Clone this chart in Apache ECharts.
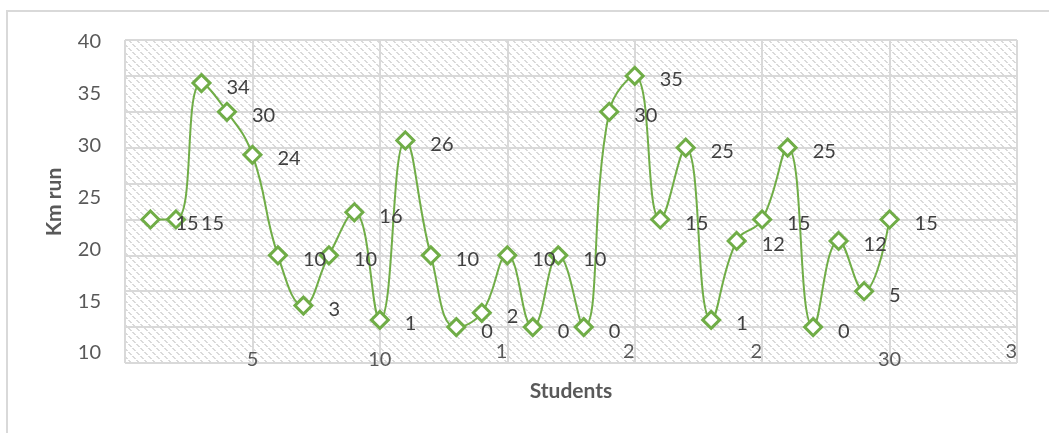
<!DOCTYPE html>
<html>
<head>
<meta charset="utf-8">
<script src="https://cdn.jsdelivr.net/npm/echarts@6/dist/echarts.min.js"></script>
<style>
  html, body { margin: 0; padding: 0; background: #fff; }
  #chart { width: 1049px; height: 433px; }
</style>
</head>
<body>
<div id="chart"></div>
<script>
// km run per student (labels shown next to each point)
const students = [1, 2, 3, 4, 5, 6, 7, 8, 9, 10, 11, 12, 13, 14, 15, 16, 17, 18, 19, 20, 21, 22, 23, 24, 25, 26, 27, 28, 29, 30]
const kmRun = [15, 15, 34, 30, 24, 10, 3, 10, 16, 1, 26, 10, 0, 2, 10, 0, 10, 0, 30, 35, 15, 25, 1, 12, 15, 25, 0, 12, 5, 15]
// tick labels as they appear on the picture (some are cut short)
const yTickLabels = ['10', '15', '20', '25', '30', '35', '40']
const xTickLabels = ['', '5', '10', '1', '2', '2', '30', '3']
const xTickShort = [false, false, false, true, true, true, false, true]

const FONT = 'Lato, "Liberation Sans", sans-serif'

// hatched fill for the plot area
const makeHatch = () => {
  const c = document.createElement('canvas')
  c.width = 8
  c.height = 8
  const ctx = c.getContext('2d')
  ctx.fillStyle = '#ffffff'
  ctx.fillRect(0, 0, 8, 8)
  ctx.fillStyle = '#dadada'
  // two short "\" dashes per tile, staggered
  const dash = (x, y) => {
    for (let k = 0; k < 3; k++) ctx.fillRect((x + k) % 8, (y + k) % 8, 2, 1)
  }
  dash(0, 0)
  dash(4, 4)
  return c
}

const chart = echarts.init(document.getElementById('chart'))

const xLabel = (short) => (v) => {
  const i = Math.round(v / 5)
  return xTickShort[i] === short ? xTickLabels[i] : ''
}

chart.setOption({
  animation: false,
  graphic: [
    {
      type: 'rect',
      shape: { x: 7, y: 11, width: 1100, height: 500 },
      style: { fill: 'none', stroke: '#d9d9d9', lineWidth: 2 },
      silent: true,
    },
  ],
  grid: [
    {
      left: 125, right: 32, top: 40, bottom: 70,
      show: true,
      borderWidth: 0,
      backgroundColor: { image: makeHatch(), repeat: 'repeat' },
    },
    { left: 109, width: 1, top: 42, bottom: 80 },
  ],
  xAxis: [
    {
      type: 'value', gridIndex: 0, min: 0, max: 35, interval: 5,
      name: 'Students', nameLocation: 'middle', nameGap: 18,
      nameTextStyle: { color: '#595959', fontSize: 21, fontWeight: 'bold', fontFamily: FONT },
      axisLine: { show: false }, axisTick: { show: false },
      splitLine: { lineStyle: { color: '#d9d9d9', width: 2 } },
      axisLabel: { formatter: xLabel(false), margin: -13, color: '#595959', fontSize: 20, fontFamily: FONT },
    },
    {
      type: 'value', gridIndex: 0, min: 0, max: 35, interval: 5, position: 'bottom',
      axisLine: { show: false }, axisTick: { show: false }, splitLine: { show: false },
      axisLabel: { formatter: xLabel(true), margin: -21, align: 'right', color: '#595959', fontSize: 20, fontFamily: FONT },
    },
    { type: 'value', gridIndex: 1, show: false, min: 0, max: 1 },
  ],
  yAxis: [
    {
      type: 'value', gridIndex: 0, min: -5, max: 40, interval: 5,
      axisLine: { show: false }, axisTick: { show: false }, axisLabel: { show: false },
      splitLine: { lineStyle: { color: '#d9d9d9', width: 2 } },
    },
    {
      type: 'value', gridIndex: 1, min: 10, max: 40, interval: 5,
      axisLine: { show: false }, axisTick: { show: false }, splitLine: { show: false },
      axisLabel: {
        margin: 8, color: '#595959', fontSize: 20, fontFamily: FONT,
        formatter: (v) => yTickLabels[Math.round((v - 10) / 5)],
      },
      name: 'Km run', nameLocation: 'middle', nameGap: 44, nameRotate: 90,
      nameTextStyle: { color: '#595959', fontSize: 21, fontWeight: 'bold', fontFamily: FONT, padding: [0, 0, 0, -9] },
    },
  ],
  series: [
    {
      type: 'line',
      xAxisIndex: 0,
      yAxisIndex: 0,
      data: students.map((s, i) => [s, kmRun[i]]),
      smooth: 0.45,
      symbol: 'diamond',
      symbolSize: 17,
      lineStyle: { color: '#70ad47', width: 2 },
      itemStyle: { color: '#ffffff', borderColor: '#70ad47', borderWidth: 3 },
      label: {
        show: true, position: 'right', distance: 15, offset: [0, 4],
        color: '#404040', fontSize: 20, fontFamily: FONT,
        formatter: (p) => p.value[1],
      },
    },
  ],
})
</script>
</body>
</html>
